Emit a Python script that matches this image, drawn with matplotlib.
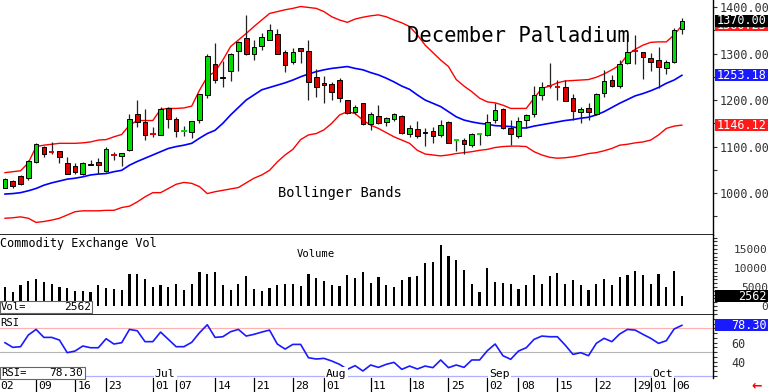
import numpy as np
import matplotlib
matplotlib.use('Agg')
import matplotlib.pyplot as plt
from matplotlib import transforms
from matplotlib.ticker import MultipleLocator, FuncFormatter

plt.rcParams['font.family'] = ['DejaVu Sans Mono', 'DejaVu Sans']

# ---------------------------- data (Dec palladium, daily)
opens = [1012, 1027, 1037, 1033, 1066, 1100, 1088, 1091, 1064, 1058, 1041, 1063, 1066, 1047, 1082, 1079,
         1092, 1171, 1153, 1128, 1125, 1182, 1159, 1132, 1132, 1157, 1211, 1277, 1248, 1262, 1305, 1333,
         1299, 1316, 1330, 1342, 1304, 1281, 1311, 1305, 1250, 1236, 1234, 1243, 1201, 1175, 1194, 1148,
         1166, 1152, 1159, 1166, 1128, 1137, 1129, 1133, 1124, 1153, 1113, 1114, 1103, 1127, 1125, 1157,
         1180, 1139, 1123, 1157, 1170, 1211, 1230, 1228, 1227, 1204, 1174, 1182, 1169, 1216, 1244, 1230,
         1280, 1305, 1303, 1290, 1286, 1268, 1282, 1352]
highs = [1032, 1029, 1038, 1072, 1107, 1102, 1110, 1091, 1078, 1064, 1066, 1072, 1075, 1100, 1089, 1086,
         1171, 1200, 1181, 1143, 1184, 1184, 1164, 1144, 1156, 1214, 1300, 1323, 1284, 1302, 1327, 1383,
         1329, 1345, 1363, 1353, 1308, 1311, 1311, 1329, 1266, 1252, 1238, 1247, 1201, 1189, 1194, 1175,
         1189, 1164, 1173, 1168, 1146, 1156, 1141, 1143, 1158, 1154, 1115, 1118, 1130, 1130, 1171, 1194,
         1182, 1158, 1164, 1171, 1230, 1239, 1279, 1244, 1244, 1213, 1184, 1193, 1216, 1265, 1254, 1286,
         1343, 1340, 1304, 1302, 1315, 1286, 1354, 1376]
lows = [1011, 1012, 1017, 1029, 1064, 1077, 1085, 1064, 1042, 1042, 1039, 1060, 1042, 1046, 1071, 1059,
        1091, 1143, 1114, 1121, 1125, 1141, 1121, 1123, 1119, 1150, 1204, 1236, 1229, 1241, 1262, 1297,
        1286, 1308, 1329, 1300, 1261, 1277, 1279, 1200, 1207, 1193, 1200, 1196, 1169, 1171, 1146, 1135,
        1148, 1144, 1156, 1128, 1120, 1118, 1102, 1107, 1121, 1107, 1091, 1085, 1100, 1103, 1123, 1151,
        1137, 1103, 1118, 1141, 1164, 1201, 1225, 1200, 1198, 1158, 1151, 1158, 1168, 1207, 1227, 1225,
        1277, 1277, 1245, 1263, 1225, 1257, 1279, 1343]
closes = [1030, 1015, 1019, 1069, 1105, 1085, 1087, 1077, 1042, 1046, 1065, 1060, 1060, 1094, 1081, 1086,
          1159, 1153, 1125, 1127, 1181, 1159, 1133, 1133, 1155, 1213, 1295, 1244, 1250, 1300, 1325, 1298,
          1313, 1336, 1351, 1300, 1275, 1304, 1305, 1239, 1227, 1232, 1218, 1204, 1173, 1186, 1148, 1171,
          1151, 1161, 1169, 1130, 1141, 1123, 1131, 1123, 1146, 1108, 1114, 1105, 1126, 1128, 1153, 1179,
          1139, 1127, 1156, 1168, 1211, 1229, 1229, 1227, 1199, 1177, 1180, 1174, 1212, 1242, 1230, 1277,
          1303, 1304, 1292, 1282, 1270, 1281, 1351, 1370]

upper = [1044, 1046, 1048, 1065, 1100, 1103, 1105, 1107, 1107, 1107, 1108, 1110, 1114, 1115, 1121, 1126,
         1146, 1156, 1156, 1156, 1180, 1182, 1182, 1183, 1187, 1221, 1250, 1261, 1286, 1315, 1329, 1343,
         1358, 1372, 1386, 1390, 1394, 1397, 1401, 1399, 1397, 1390, 1379, 1372, 1367, 1374, 1378, 1381,
         1383, 1379, 1372, 1366, 1358, 1340, 1318, 1302, 1286, 1272, 1244, 1230, 1218, 1204, 1196, 1194,
         1189, 1182, 1182, 1182, 1204, 1225, 1230, 1237, 1241, 1242, 1243, 1244, 1249, 1256, 1265, 1275,
         1297, 1309, 1318, 1324, 1325, 1325, 1340, 1360.25]
middle = [998, 999, 1001, 1005, 1010, 1017, 1022, 1026, 1030, 1032, 1035, 1039, 1041, 1042, 1046, 1049,
          1060, 1068, 1075, 1082, 1089, 1096, 1100, 1103, 1107, 1118, 1128, 1135, 1150, 1168, 1184, 1200,
          1211, 1222, 1227, 1232, 1237, 1243, 1250, 1256, 1261, 1265, 1268, 1270, 1272, 1268, 1265, 1259,
          1254, 1247, 1239, 1230, 1223, 1211, 1200, 1193, 1186, 1175, 1164, 1157, 1153, 1150, 1148, 1145,
          1144, 1143, 1140, 1140, 1144, 1147, 1150, 1153, 1156, 1158, 1161, 1163, 1168, 1175, 1184, 1193,
          1201, 1209, 1214, 1220, 1227, 1236, 1243, 1253.18]
lower = [946, 947, 949, 946, 937, 939, 942, 946, 953, 960, 962, 962, 962, 963, 963, 969,
         972, 981, 992, 1001, 1001, 1010, 1019, 1023, 1021, 1014, 999, 1003, 1006, 1009, 1012, 1022,
         1032, 1039, 1049, 1067, 1082, 1094, 1115, 1125, 1128, 1136, 1150, 1168, 1175, 1171, 1157, 1146,
         1139, 1130, 1121, 1114, 1107, 1092, 1084, 1082, 1080, 1082, 1085, 1087, 1089, 1092, 1094, 1098,
         1100, 1101, 1101, 1100, 1089, 1082, 1077, 1075, 1076, 1078, 1081, 1085, 1087, 1091, 1096, 1103,
         1105, 1108, 1110, 1114, 1125, 1139, 1144, 1146.12]

volume = [4900, 3800, 5500, 6700, 7000, 6400, 5700, 5100, 4600, 3900, 3900, 3800, 5500, 4600, 4400, 4200,
          8300, 8300, 7000, 4900, 5500, 4900, 5800, 4100, 5700, 8900, 8400, 9000, 5500, 4200, 5700, 7900,
          4400, 3900, 4600, 5500, 5800, 5700, 5300, 8300, 7300, 6700, 5500, 5300, 8200, 7300, 8900, 6100,
          7500, 5500, 4900, 6800, 7500, 7900, 11200, 11700, 16100, 13200, 12100, 9500, 5900, 3800, 10100, 6400,
          6100, 5700, 4500, 5400, 8200, 5700, 8000, 8600, 5700, 6800, 5400, 4200, 5800, 7100, 5500, 7500,
          8200, 9300, 8200, 5800, 8400, 5100, 9300, 2562]

rsi = [60.0, 55.1, 55.8, 68.1, 74.0, 65.6, 65.6, 62.8, 49.5, 51.2, 56.5, 54.7, 54.7, 64.2, 58.6, 60.0,
       74.0, 72.6, 61.1, 61.1, 71.2, 63.5, 55.8, 55.8, 60.4, 70.5, 78.9, 65.6, 66.3, 71.6, 74.0, 67.0,
       68.8, 71.2, 73.3, 58.6, 53.3, 58.2, 58.2, 44.2, 42.8, 43.5, 40.7, 37.2, 31.9, 35.8, 30.2, 36.5,
       34.0, 37.2, 39.3, 31.9, 35.4, 32.3, 35.4, 33.7, 41.8, 33.7, 36.5, 34.0, 41.8, 41.8, 51.6, 58.6,
       46.3, 42.5, 51.2, 54.7, 63.5, 67.0, 66.3, 66.3, 57.5, 47.7, 49.5, 46.3, 59.3, 64.6, 61.1, 69.1,
       74.0, 73.3, 68.8, 64.6, 59.3, 62.1, 74.4, 78.30]

# date axis: bar index of each labelled session and its label
date_pos = [4, 9, 13, 19, 22, 27, 32, 37, 41, 47, 52, 57, 62, 66, 71, 76, 81, 83, 86]
date_lbl = ['09', '16', '23', '01', '07', '14', '21', '28', '01', '11', '18', '25', '02', '08',
            '15', '22', '29', '01', '06']
month_pos = [19, 41, 62, 83]
month_lbl = ['Jul', 'Aug', 'Sep', 'Oct']

# ---------------------------- layout (pixel boxes of the 768x392 picture)
W, H = 768, 392
fig = plt.figure(figsize=(W / 100, H / 100), dpi=100)


def px_axes(x0, y0, x1, y1):
    return fig.add_axes([x0 / W, 1 - y1 / H, (x1 - x0) / W, (y1 - y0) / H])


def fy(y):
    return 1 - y / H


ax = px_axes(0, 0, 713, 235)
axv = px_axes(0, 235, 713, 315)
axr = px_axes(0, 315, 713, 378)

x = np.arange(len(closes))
GREEN, RED = '#00dc00', '#dd0000'

for a in (ax, axv, axr):
    a.set_xlim(-0.64, 91.0)
    a.set_xticks([])
    a.yaxis.tick_right()
    for s in ('left', 'top'):
        a.spines[s].set_visible(False)
    a.spines['right'].set_linewidth(1.0)
    a.spines['bottom'].set_linewidth(1.2)
    a.tick_params(axis='y', which='both', length=3, width=0.8, colors='#333333',
                  labelsize=8.5, labelfontfamily='DejaVu Sans Mono')
axr.spines['bottom'].set_visible(False)

# ---------------------------- price panel
ax.set_ylim(910, 1415)
ax.plot(x, upper, color='#ff0000', lw=1.0, zorder=1)
ax.plot(x, lower, color='#ff0000', lw=1.0, zorder=1)
ax.plot(x, middle, color='#0000ff', lw=1.2, zorder=1)

for i in range(len(closes)):
    o, h, l, c = opens[i], highs[i], lows[i], closes[i]
    col = GREEN if c >= o else RED
    ax.vlines(i, l, h, color='#222222', lw=0.9, zorder=2)
    if abs(c - o) < 2:
        ax.hlines((o + c) / 2, i - 0.35, i + 0.35, color=col, lw=1.4, zorder=3)
    else:
        ax.add_patch(plt.Rectangle((i - 0.3, min(o, c)), 0.6, abs(c - o), facecolor=col,
                                   edgecolor='black', lw=0.7, zorder=3))

ax.set_yticks([1000, 1100, 1200, 1300, 1400])
ax.yaxis.set_minor_locator(MultipleLocator(50))
ax.yaxis.set_major_formatter(FuncFormatter(lambda v, p: '%.2f' % v))
ax.tick_params(axis='y', pad=1.5)

ax.text(407 / 713, 1 - 36 / 235, 'December Palladium', transform=ax.transAxes,
        fontsize=14.8, va='center', ha='left', color='black')
ax.text(278 / 713, 1 - 193 / 235, 'Bollinger Bands', transform=ax.transAxes,
        fontsize=9.9, va='center', ha='left', color='black')

tag_z = [10]


def tag(a, value, text, fc, size=8.5):
    # coloured value box on the right scale, 12 px tall, from x=715 to the edge
    tr = transforms.blended_transform_factory(fig.transFigure, a.transData)
    y0, y1 = a.get_ylim()
    d = 12 * (y1 - y0) / (a.get_position().height * H)
    z = tag_z[0]
    tag_z[0] += 2
    a.add_patch(plt.Rectangle((715 / W, value - d / 2), 53 / W, d, transform=tr,
                              fc=fc, ec='none', clip_on=False, zorder=z))
    a.text(767 / W, value, text, transform=tr, ha='right', va='center', fontsize=size,
           color='white', clip_on=False, zorder=z + 1)


tag(ax, upper[-1], '%.2f' % upper[-1], '#ff1a1a')
tag(ax, closes[-1], '%.2f' % closes[-1], 'black')
tag(ax, middle[-1], '%.2f' % middle[-1], '#1a1aff')
tag(ax, lower[-1], '%.2f' % lower[-1], '#ff1a1a')

# ---------------------------- volume panel
axv.set_ylim(-2370, 18670)
axv.bar(x, volume, width=0.28, color='black', zorder=2)
axv.set_yticks([0, 5000, 10000, 15000])
axv.yaxis.set_minor_locator(MultipleLocator(1000))
axv.yaxis.set_major_formatter(FuncFormatter(lambda v, p: '%d' % v))
axv.tick_params(axis='y', pad=36.5, labelsize=8)
for t in axv.get_yticklabels():
    t.set_ha('right')
tag(axv, volume[-1], '%d' % volume[-1], 'black')

fig.text(0, fy(243), 'Commodity Exchange Vol', fontsize=8.5, va='center', ha='left')
fig.text(316 / W, fy(254), 'Volume', fontsize=7.6, va='center', ha='center')

# ---------------------------- RSI panel
axr.set_ylim(22.8, 89.2)
axr.axhline(75, color='#ffb0b0', lw=0.8, zorder=1)
axr.axhline(50, color='#b4b4b4', lw=0.8, zorder=1)
axr.axhline(25, color='#b0b0ff', lw=0.9, zorder=1)
axr.plot(x, rsi, color='#1a1aff', lw=1.2, zorder=2)
axr.set_yticks([40, 60])
axr.yaxis.set_minor_locator(MultipleLocator(5))
axr.tick_params(axis='y', pad=15)
for t in axr.get_yticklabels():
    t.set_ha('center')
tag(axr, rsi[-1], '%.2f' % rsi[-1], '#1a1aff')
fig.text(0, fy(323), 'RSI', fontsize=7.6, va='center', ha='left')

xt = axr.get_xaxis_transform()
for p, lbl in zip(month_pos, month_lbl):
    axr.text(p + 0.25, 0.07, lbl, transform=xt, fontsize=8.2, ha='left', va='center',
             bbox=dict(boxstyle='square,pad=0.1', fc='white', ec='none'), zorder=4)

# date ticks below the RSI panel
for p, lbl in zip(date_pos, date_lbl):
    axr.plot([p, p], [0, -14 / 63], transform=xt, color='black', lw=0.9, clip_on=False)
    axr.text(p + 0.3, -8 / 63, lbl, transform=xt, fontsize=8.2, ha='left', va='center',
             clip_on=False)
axr.text(-0.62, -8 / 63, '02', transform=xt, fontsize=8.2, ha='left', va='center', clip_on=False)

# value boxes at the left
fig.patches.append(plt.Rectangle((0, fy(313)), 92 / W, 12 / H, transform=fig.transFigure,
                                 fc='white', ec='#666666', lw=0.8, zorder=5))
fig.text(1 / W, fy(307), 'Vol=', fontsize=7.6, va='center', ha='left', zorder=6)
fig.text(91 / W, fy(307), '%d' % volume[-1], fontsize=8, va='center', ha='right', zorder=6)
fig.patches.append(plt.Rectangle((0, fy(379)), 85 / W, 12 / H, transform=fig.transFigure,
                                 fc='white', ec='#666666', lw=0.8, zorder=5))
fig.text(1 / W, fy(373), 'RSI=', fontsize=7.6, va='center', ha='left', zorder=6)
fig.text(83 / W, fy(373), '%.2f' % rsi[-1], fontsize=8, va='center', ha='right', zorder=6)

fig.text(757 / W, fy(386), '\u2190', color='red', fontsize=9, fontweight='bold',
         ha='center', va='center', family='DejaVu Sans')

fig.savefig('out.png', dpi=100, facecolor='white')
